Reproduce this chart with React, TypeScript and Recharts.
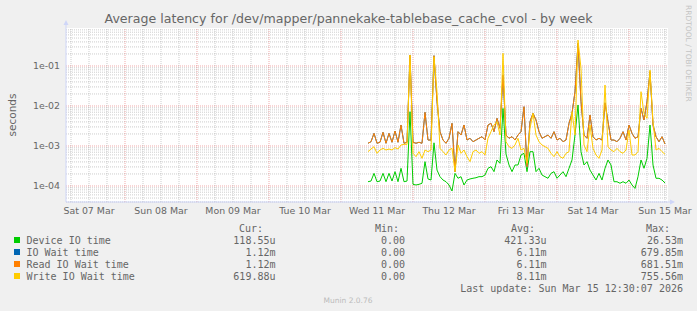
import React from 'react';
import { LineChart, Line, XAxis, YAxis, CartesianGrid, ReferenceLine } from 'recharts';

// hours since Sat 07 Mar 00:00, one sample per hour
const hours = [
  105, 106, 107, 108, 109, 110, 111, 112, 113, 114, 115, 116, 117, 118, 119, 120, 121, 122, 123, 124,
  125, 126, 127, 128, 129, 130, 131, 132, 133, 134, 135, 136, 137, 138, 139, 140, 141, 142, 143, 144,
  145, 146, 147, 148, 149, 150, 151, 152, 153, 154, 155, 156, 157, 158, 159, 160, 161, 162, 163, 164,
  165, 166, 167, 168, 169, 170, 171, 172, 173, 174, 175, 176, 177, 178, 179, 180, 181, 182, 183, 184,
  185, 186, 187, 188, 189, 190, 191, 192, 193, 194, 195, 196, 197, 198, 199, 200, 201, 202, 203, 204,
];

const deviceIO = [
  1.28e-4, 1.33e-4, 2.07e-4, 1.28e-4, 1.33e-4, 2.07e-4, 1.28e-4, 2.07e-4, 1.33e-4, 2.28e-4,
  1.28e-4, 2.77e-4, 1.28e-4, 1.33e-4, 7.2e-3, 1.1e-4, 1.06e-4, 1.1e-4, 1.17e-4, 4.06e-4,
  1.5e-4, 1.41e-4, 1.2e-3, 2.5e-4, 1.71e-4, 1.41e-4, 1.28e-4, 1.06e-4, 7.5e-5, 2.07e-4,
  1.56e-4, 1.71e-4, 1.06e-4, 1.41e-4, 1.5e-4, 1.56e-4, 1.61e-4, 1.71e-4, 1.71e-4, 1.88e-4,
  2.77e-4, 3.04e-4, 2.28e-4, 4.47e-4, 3.69e-4, 8.7e-3, 6.3e-4, 3.35e-4, 2.28e-4, 3.35e-4,
  3.35e-4, 5.96e-4, 6.56e-4, 2.28e-4, 7.2e-4, 7.2e-4, 2.28e-4, 2.77e-4, 1.88e-4, 1.71e-4,
  1.56e-4, 2.07e-4, 2.28e-4, 1.56e-4, 1.88e-4, 2.28e-4, 1.71e-4, 2.77e-4, 4.47e-4, 1.9e-3,
  1.06e-2, 7.2e-4, 3.35e-4, 4.06e-4, 2.5e-4, 1.88e-4, 1.41e-4, 2.07e-4, 1.41e-4, 2.77e-4,
  4.47e-4, 3.35e-4, 1.28e-4, 1.28e-4, 1.17e-4, 1.28e-4, 1.17e-4, 1.41e-4, 1.06e-4, 8.7e-5,
  1.71e-4, 4.47e-4, 2.77e-4, 4.92e-4, 3.35e-3, 3.35e-4, 1.56e-4, 1.56e-4, 1.41e-4, 1.19e-4,
];

const readWait = [
  1.17e-3, 1.28e-3, 2.07e-3, 1.17e-3, 1.24e-3, 2.2e-3, 1.17e-3, 2.07e-3, 1.24e-3, 2.37e-3,
  1.24e-3, 3.35e-3, 1.17e-3, 1.24e-3, 0.188, 1.24e-3, 1.17e-3, 1.24e-3, 1.17e-3, 6.95e-3,
  1.41e-3, 1.41e-3, 0.181, 0.0128, 2.28e-3, 1.41e-3, 1.17e-3, 1.56e-3, 3.69e-3, 2.28e-4,
  2.28e-3, 1.88e-3, 3.35e-3, 1.41e-3, 1.56e-3, 1.28e-3, 1.41e-3, 1.56e-3, 1.71e-3, 1.41e-3,
  3.35e-3, 3.69e-3, 2.28e-3, 4.92e-3, 2.77e-3, 0.06, 1.88e-3, 1.56e-3, 1.71e-3, 1.41e-3,
  1.88e-3, 2.28e-3, 9.6e-3, 3.04e-4, 4.06e-3, 6.56e-3, 4.47e-3, 2.28e-3, 1.56e-3, 1.71e-3,
  1.88e-3, 1.56e-3, 2.28e-3, 1.41e-3, 1.56e-3, 1.28e-3, 1.41e-3, 3.69e-3, 6.56e-3, 0.0228,
  0.369, 0.0128, 1.88e-3, 1.56e-3, 5.96e-3, 1.71e-3, 1.41e-3, 1.56e-3, 1.41e-3, 0.012,
  4.06e-3, 1.41e-3, 1.41e-3, 1.28e-3, 1.56e-3, 2.28e-3, 1.41e-3, 3.35e-3, 2.07e-3, 1.56e-3,
  1.71e-3, 8.74e-3, 4.47e-3, 0.0128, 0.072, 3.35e-3, 1.71e-3, 1.28e-3, 1.71e-3, 1.12e-3,
];

// IO wait is practically identical to read wait and sits under it
const ioWait = readWait;

const writeWait = [
  7.22e-4, 8.4e-4, 9.6e-4, 6.56e-4, 7.94e-4, 8.74e-4, 7.94e-4, 8.4e-4, 7.94e-4, 9.1e-4,
  8.4e-4, 1.06e-3, 1.1e-3, 1.1e-3, 0.188, 6.56e-4, 5.41e-4, 7.22e-4, 4.92e-4, 7.94e-4,
  7.22e-4, 7.94e-4, 0.171, 0.0228, 8.74e-4, 7.22e-4, 5.96e-4, 7.94e-4, 8.74e-4, 2.28e-4,
  1.06e-3, 6.56e-4, 7.94e-4, 5.41e-4, 4.06e-4, 7.22e-4, 7.94e-4, 6.56e-4, 7.22e-4, 5.96e-4,
  1.56e-3, 2.28e-3, 3.35e-3, 4.06e-3, 1.88e-3, 0.207, 1.28e-3, 9.6e-4, 8.74e-4, 1.06e-3,
  1.56e-3, 7.94e-4, 8.74e-4, 3.69e-4, 2.77e-3, 6.56e-3, 1.88e-3, 1.28e-3, 1.06e-3, 9.6e-4,
  8.74e-4, 6.56e-4, 5.41e-4, 7.22e-4, 5.41e-4, 4.92e-4, 6.56e-4, 7.22e-4, 7.22e-3, 1.88e-3,
  0.447, 0.0874, 1.06e-3, 7.22e-4, 3.35e-3, 8.74e-4, 5.96e-4, 4.92e-4, 7.94e-4, 0.0335,
  9.6e-4, 7.94e-4, 7.22e-4, 8.74e-4, 7.22e-4, 6.56e-4, 7.94e-4, 2.5e-3, 5.96e-4, 5.96e-4,
  7.22e-4, 0.0228, 6.56e-3, 4.92e-3, 0.079, 4.06e-3, 7.94e-4, 8.74e-4, 7.22e-4, 6.2e-4,
];

const dayTicks = [12, 36, 60, 84, 108, 132, 156, 180, 204];
const dayLabels = ['Sat 07 Mar', 'Sun 08 Mar', 'Mon 09 Mar', 'Tue 10 Mar', 'Wed 11 Mar', 'Thu 12 Mar', 'Fri 13 Mar', 'Sat 14 Mar', 'Sun 15 Mar'];
const yTicks = [1e-4, 1e-3, 1e-2, 1e-1];
const yTickLabels = ['1e-04', '1e-03', '1e-02', '1e-01'];

const seriesNames = ['Device IO time', 'IO Wait time', 'Read IO Wait time', 'Write IO Wait time'];
const seriesColors = ['#00cc00', '#0066b3', '#ff8000', '#ffcc00'];
const curValues = ['118.55u', '1.12m', '1.12m', '619.88u'];
const minValues = ['0.00', '0.00', '0.00', '0.00'];
const avgValues = ['421.33u', '6.11m', '6.11m', '8.11m'];
const maxValues = ['26.53m', '679.85m', '681.51m', '755.56m'];

const X_DOMAIN: [number, number] = [4.33, 205];
const Y_DOMAIN: [number, number] = [3.98e-5, 0.891];

const FONT = 'DejaVu Sans, sans-serif';
const MONO = 'DejaVu Sans Mono, monospace';
const TEXT = '#666666';
const AXIS = '#cfd6f8';

const data = hours.map((t, i) => ({
  t,
  device: deviceIO[i],
  io: ioWait[i],
  read: readWait[i],
  write: writeWait[i],
}));

// grid positions
const minorY: number[] = [];
[1e-5, 1e-4, 1e-3, 1e-2, 1e-1].forEach(d => {
  for (let m = 2; m <= 9; m++) {
    const v = d * m;
    if (v > Y_DOMAIN[0] && v < Y_DOMAIN[1]) minorY.push(v);
  }
});
const minorX: number[] = [];
const majorX: number[] = [];
for (let h = 6; h < X_DOMAIN[1]; h += 6) {
  if (h % 24 === 0) majorX.push(h);
  else minorX.push(h);
}

const rows = [243.5, 255.5, 267.5, 279.5];

const App: React.FC = () => {
  return (
    <div style={{ position: 'absolute', left: 0, top: 0, width: 697, height: 311, background: '#f0f0f0' }}>
      <LineChart width={697} height={311} data={data} margin={{ top: 28, right: 29, left: 0, bottom: 89 }}>
        <CartesianGrid fill="#ffffff" horizontal={false} vertical={false} stroke="none" />
        {minorY.map(v => (
          <ReferenceLine key={`my${v}`} y={v} stroke="#8f8f8f" strokeOpacity={0.45} strokeDasharray="1 1" />
        ))}
        {minorX.map(v => (
          <ReferenceLine key={`mx${v}`} x={v} stroke="#8f8f8f" strokeOpacity={0.45} strokeDasharray="1 1" />
        ))}
        {yTicks.map(v => (
          <ReferenceLine key={`My${v}`} y={v} stroke="#de3030" strokeOpacity={0.4} strokeDasharray="1 1" />
        ))}
        {majorX.map(v => (
          <ReferenceLine key={`Mx${v}`} x={v} stroke="#de3030" strokeOpacity={0.4} strokeDasharray="1 1" />
        ))}
        <XAxis
          type="number"
          dataKey="t"
          domain={X_DOMAIN}
          allowDataOverflow
          ticks={dayTicks}
          interval={0}
          tickFormatter={(v: number) => dayLabels[dayTicks.indexOf(v)]}
          height={20}
          tickLine={false}
          tickSize={2}
          tickMargin={3}
          stroke={AXIS}
          tick={{ fontSize: 9.4, fill: TEXT, fontFamily: FONT }}
        />
        <YAxis
          scale="log"
          domain={Y_DOMAIN}
          allowDataOverflow
          ticks={yTicks}
          interval={0}
          tickFormatter={(v: number) => yTickLabels[yTicks.indexOf(v)]}
          width={66}
          tickLine={false}
          tickSize={3}
          tickMargin={3}
          stroke={AXIS}
          tick={{ fontSize: 9.4, fill: TEXT, fontFamily: FONT }}
        />
        <Line type="linear" dataKey="device" stroke={seriesColors[0]} strokeWidth={1} dot={false} isAnimationActive={false} />
        <Line type="linear" dataKey="io" stroke={seriesColors[1]} strokeWidth={1} dot={false} isAnimationActive={false} />
        <Line type="linear" dataKey="read" stroke={seriesColors[2]} strokeWidth={1} dot={false} isAnimationActive={false} />
        <Line type="linear" dataKey="write" stroke={seriesColors[3]} strokeWidth={1} dot={false} isAnimationActive={false} />
      </LineChart>
      <svg width={697} height={311} style={{ position: 'absolute', left: 0, top: 0, pointerEvents: 'none' }}>
        <line x1={66} y1={22} x2={66} y2={28} stroke={AXIS} />
        <polygon points="63.5,25 68.5,25 66,20" fill={AXIS} />
        <line x1={668} y1={202} x2={673} y2={202} stroke={AXIS} />
        <polygon points="670,199.5 670,204.5 675,202" fill={AXIS} />
        <text x={348.5} y={22.5} textAnchor="middle" fontFamily={FONT} fontSize={12.6} fill={TEXT}>
          Average latency for /dev/mapper/pannekake-tablebase_cache_cvol - by week
        </text>
        <text x={15.5} y={115} textAnchor="middle" fontFamily={FONT} fontSize={10.5} fill={TEXT} transform="rotate(-90 15.5 115)">
          seconds
        </text>
        <text x={685.5} y={5} textAnchor="start" fontFamily={FONT} fontSize={7.5} fill="#c4c4c4" transform="rotate(90 685.5 5)">
          RRDTOOL / TOBI OETIKER
        </text>
        <g fontFamily={MONO} fontSize={10} fill={TEXT}>
          <text x={263} y={231.5} textAnchor="end">Cur:</text>
          <text x={399} y={231.5} textAnchor="end">Min:</text>
          <text x={535} y={231.5} textAnchor="end">Avg:</text>
          <text x={670} y={231.5} textAnchor="end">Max:</text>
          {seriesNames.map((name, i) => (
            <g key={name}>
              <rect x={14} y={rows[i] - 6.5} width={6} height={6} fill={seriesColors[i]} />
              <text x={26.5} y={rows[i]}>{name}</text>
              <text x={275.5} y={rows[i]} textAnchor="end">{curValues[i]}</text>
              <text x={405} y={rows[i]} textAnchor="end">{minValues[i]}</text>
              <text x={546.5} y={rows[i]} textAnchor="end">{avgValues[i]}</text>
              <text x={683} y={rows[i]} textAnchor="end">{maxValues[i]}</text>
            </g>
          ))}
          <text x={683} y={291.5} textAnchor="end">Last update: Sun Mar 15 12:30:07 2026</text>
        </g>
        <text x={348} y={302.5} textAnchor="middle" fontFamily={FONT} fontSize={7.5} fill="#bbbbbb">
          Munin 2.0.76
        </text>
      </svg>
    </div>
  );
};

export default App;
